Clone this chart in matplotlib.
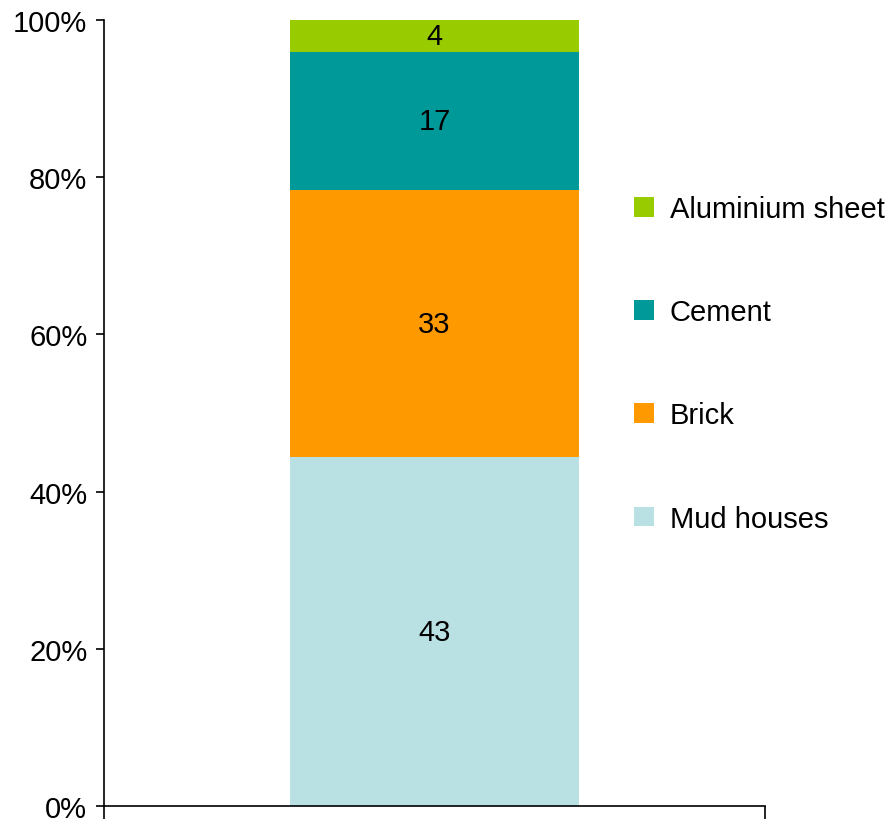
import matplotlib.pyplot as plt
import numpy as np
from matplotlib.patches import Patch

plt.rcParams['font.family'] = ['Liberation Sans', 'DejaVu Sans']

# Data (bottom to top)
categories = ['Mud houses', 'Brick', 'Cement', 'Aluminium sheet']
values = [43, 33, 17, 4]
colors = ['#B9E0E3', '#FF9900', '#009999', '#99CC00']

shares = np.array(values) / np.sum(values) * 100

fig = plt.figure(figsize=(8.93, 8.2), dpi=100)
ax = fig.add_axes([0.1165, 0.0160, 0.74, 0.9584])

bottom = 0
for cat, val, share, col in zip(categories, values, shares, colors):
    ax.bar(0, share, width=0.437, bottom=bottom, color=col, label=cat)
    ax.text(0, bottom + share / 2, str(val), ha='center', va='center', fontsize=21)
    bottom += share

ax.set_xlim(-0.5, 0.5)
ax.set_ylim(0, 100)
ax.set_yticks(np.arange(0, 101, 20))
ax.set_yticklabels([f'{v}%' for v in range(0, 101, 20)], fontsize=21)
ax.set_xticks([-0.5, 0.5])
ax.set_xticklabels(['', ''])
ax.tick_params(axis='y', direction='out', length=6, width=1.2, pad=6)
ax.tick_params(axis='x', direction='out', length=9, width=1.2)
for side in ['top', 'right']:
    ax.spines[side].set_visible(False)
for side in ['left', 'bottom']:
    ax.spines[side].set_linewidth(1.2)

handles = [Patch(facecolor=c) for c in colors[::-1]]
fig.legend(handles, categories[::-1], loc='upper left',
           bbox_to_anchor=(0.681, 0.793), frameon=False, fontsize=21,
           handlelength=0.66, handleheight=0.66, handletextpad=0.55,
           labelspacing=2.58)

fig.savefig('out.png', dpi=100)
